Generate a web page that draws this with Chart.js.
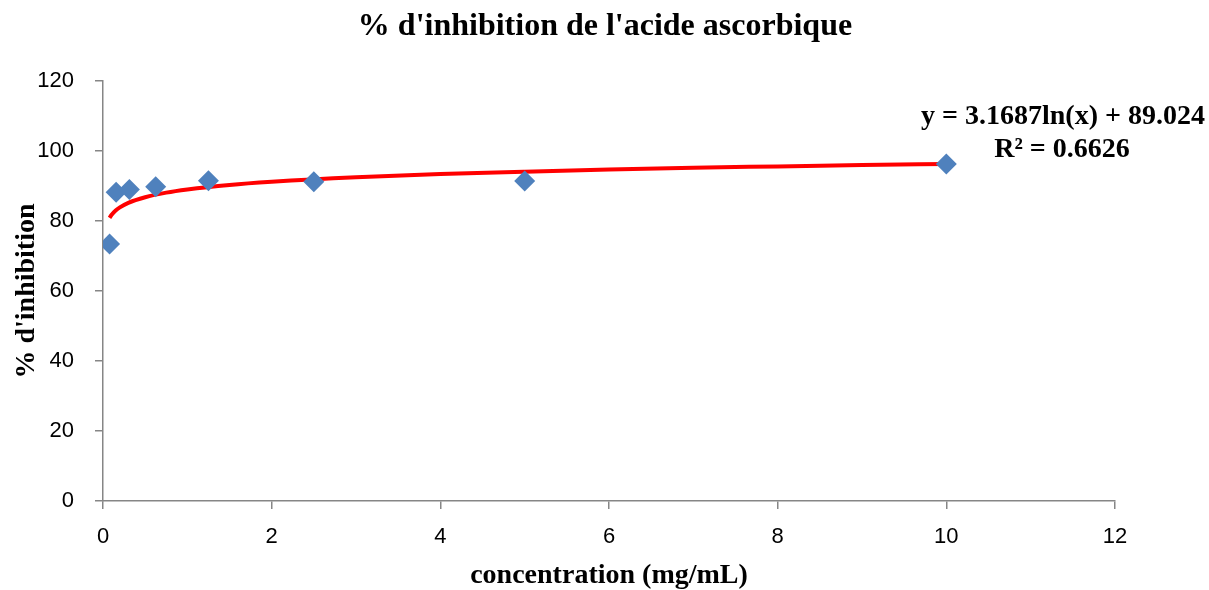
<!DOCTYPE html>
<html>
<head>
<meta charset="utf-8">
<script src="https://cdn.jsdelivr.net/npm/chart.js@4/dist/chart.umd.min.js"></script>
<style>
  html, body { margin: 0; padding: 0; background: #fff; }
  #wrap { width: 1209px; height: 590px; }
</style>
</head>
<body>
<div id="wrap"><canvas id="c" width="1209" height="590"></canvas></div>
<script>
const C = {
  point: "#4F81BD",
  trend: "#FF0000",
  axis:  "#868686",
  text:  "#000000",
};

// concentration (mg/mL) and % inhibition
const conc = [0.078, 0.156, 0.3125, 0.625, 1.25, 2.5, 5, 10];
const inhib = [73.4, 88.2, 89.0, 89.8, 91.5, 91.2, 91.4, 96.3];

// logarithmic trendline, values
const trendX = [0.078, 0.1, 0.15, 0.2, 0.3, 0.5, 0.75, 1, 1.5, 2, 3, 4, 5, 6, 7, 8, 9, 10];
const trendY = [80.9, 81.7, 83.0, 83.9, 85.2, 86.8, 88.1, 89.0, 90.3, 91.2, 92.5, 93.4, 94.1, 94.7, 95.2, 95.6, 96.0, 96.3];

const xTicks = [0, 2, 4, 6, 8, 10, 12];
const yTicks = [0, 20, 40, 60, 80, 100, 120];

const titleText = "% d'inhibition de l'acide ascorbique";
const eqLines = ["y = 3.1687ln(x) + 89.024", "R\u00B2 = 0.6626"];

const serif = "'Liberation Serif', 'Times New Roman', serif";
const sans = "'Liberation Sans', Arial, sans-serif";

// chart title + trendline equation
const labels = {
  id: "labels",
  afterDraw(chart) {
    const ctx = chart.ctx;
    const ca = chart.chartArea;
    ctx.save();
    ctx.fillStyle = C.text;
    ctx.textAlign = "center";
    ctx.textBaseline = "middle";
    ctx.font = `bold 32px ${serif}`;
    ctx.fillText(titleText, 605, 27);
    ctx.font = `bold 28px ${serif}`;
    ctx.fillText(eqLines[0], ca.right - 52, 117);
    ctx.fillText(eqLines[1], ca.right - 53, 150);
    ctx.restore();
  },
};

new Chart(document.getElementById("c"), {
  type: "scatter",
  data: {
    datasets: [
      {
        label: "% inhibition",
        data: conc.map((x, i) => ({ x, y: inhib[i] })),
        pointStyle: "rectRot",
        pointRadius: 10.5,
        pointHoverRadius: 10.5,
        backgroundColor: C.point,
        borderColor: C.point,
        borderWidth: 0,
        order: 1,
      },
      {
        label: "Log. trend",
        type: "line",
        data: trendX.map((x, i) => ({ x, y: trendY[i] })),
        borderColor: C.trend,
        borderWidth: 4,
        pointRadius: 0,
        cubicInterpolationMode: "monotone",
        fill: false,
        order: 2,
      },
    ],
  },
  options: {
    responsive: false,
    animation: false,
    layout: { padding: { left: 13, right: 94, top: 81, bottom: 0 } },
    plugins: {
      legend: { display: false },
      tooltip: { enabled: false },
      title: { display: false },
    },
    scales: {
      x: {
        type: "linear",
        min: 0,
        max: 12,
        afterBuildTicks: s => { s.ticks = xTicks.map(v => ({ value: v })); },
        ticks: { color: C.text, font: { family: sans, size: 22 }, padding: 15 },
        grid: { display: true, drawOnChartArea: false, drawTicks: true, tickLength: 8, color: C.axis, lineWidth: 1.5 },
        border: { color: C.axis, width: 1.5 },
        title: {
          display: true,
          text: "concentration (mg/mL)",
          color: C.text,
          font: { family: serif, size: 28, weight: "bold", lineHeight: 1 },
          padding: { top: 0, bottom: 0 },
        },
        afterFit: s => { s.height = 89; },
      },
      y: {
        min: 0,
        max: 120,
        afterBuildTicks: s => { s.ticks = yTicks.map(v => ({ value: v })); },
        ticks: { color: C.text, font: { family: sans, size: 22 }, padding: 21 },
        grid: { display: true, drawOnChartArea: false, drawTicks: true, tickLength: 8, color: C.axis, lineWidth: 1.5 },
        border: { color: C.axis, width: 1.5 },
        title: {
          display: true,
          text: "% d'inhibition",
          color: C.text,
          font: { family: serif, size: 28, weight: "bold", lineHeight: 1 },
          padding: { top: 0, bottom: 0 },
        },
        afterFit: s => { s.width = 90; },
      },
    },
  },
  plugins: [labels],
});
</script>
</body>
</html>
